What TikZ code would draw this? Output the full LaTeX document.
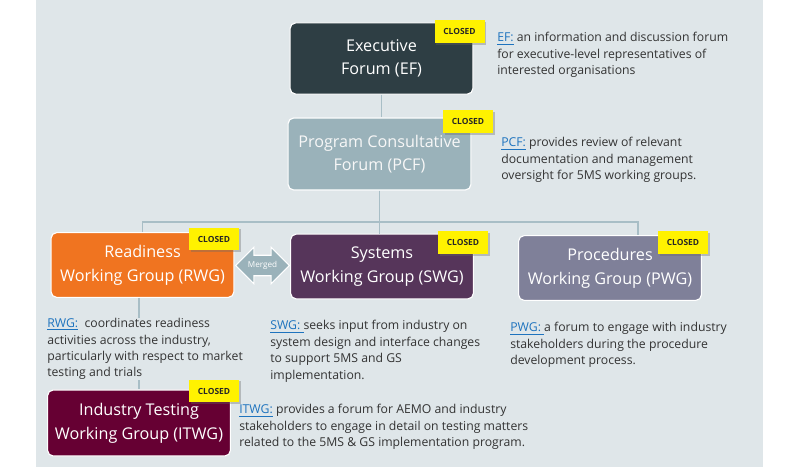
\documentclass[tikz,border=0pt]{standalone}
\usepackage{fontspec}
\setmainfont{Open Sans}
\usetikzlibrary{shapes.arrows, shadows, calc, positioning}

\definecolor{panel}{HTML}{DFE6E9}
\definecolor{efcol}{HTML}{2E3E44}
\definecolor{pcfcol}{HTML}{9AB2BA}
\definecolor{rwgcol}{HTML}{F07420}
\definecolor{swgcol}{HTML}{56355A}
\definecolor{pwgcol}{HTML}{7F8099}
\definecolor{itwgcol}{HTML}{660033}
\definecolor{wire}{HTML}{A8BEC6}
\definecolor{linkblue}{HTML}{1E73BE}
\definecolor{bodytext}{HTML}{333333}

\newcommand{\grouplink}[1]{\textcolor{linkblue}{\underline{#1}}}

\begin{document}
\begin{tikzpicture}[x=0.025cm, y=-0.025cm,
    groupbox/.style={draw=white, line width=0.8pt, rounded corners=4pt, minimum width=4.57cm, minimum height=1.62cm,
        align=center, text=white, font=\fontsize{11.5}{16.8}\selectfont,
        execute at begin node={\rule{0pt}{16pt}}},
    closedtag/.style={fill=yellow, minimum width=1.25cm, minimum height=0.57cm, inner sep=0pt,
        font=\fontsize{6}{7}\selectfont\bfseries, text=black!85,
        drop shadow={shadow xshift=1.2pt, shadow yshift=-1.2pt, opacity=0.35, fill=black!60}},
    note/.style={anchor=north west, inner sep=0pt, align=left, text=bodytext, fill=panel,
        font=\fontsize{8.7}{11.7}\selectfont},
    link/.style={draw=wire, line width=1.4pt}]

\useasboundingbox (0,0) rectangle (800,467);
\fill[panel] (36,0) rectangle (763,467);

%
\node[groupbox, fill=efcol, minimum height=1.78cm]   (EF)   at (381.5,58.5) {Executive\\Forum (EF)};
\node[groupbox, fill=pcfcol, minimum height=1.8cm, text=white!97!black] (PCF) at (379.5,154) {Program Consultative\\Forum (PCF)};
\node[groupbox, fill=rwgcol]  (RWG)  at (142.5,265) {Readiness\\Working Group (RWG)};
\node[groupbox, fill=swgcol]  (SWG)  at (382,266.5) {Systems\\Working Group (SWG)};
\node[groupbox, fill=pwgcol]  (PWG)  at (610,268)   {Procedures\\Working Group (PWG)};
\node[groupbox, fill=itwgcol, minimum height=1.65cm] (ITWG) at (139,423) {Industry Testing\\Working Group (ITWG)};

%
\coordinate (bus)  at (380,222);
\coordinate (pwgdrop) at (638,222);
\draw[link] (EF.south) -- (EF.south |- PCF.north);
\draw[link] (PCF.south) -- (PCF.south |- SWG.north);
\draw[link] (RWG.north) |- (pwgdrop) -- (pwgdrop |- PWG.north);
\draw[link] (ITWG.north |- RWG.south) -- (ITWG.north);

%
\node[double arrow, fill=pcfcol, draw=white, line width=0.8pt, minimum height=1.33cm, inner xsep=1pt, inner ysep=4pt,
    double arrow head extend=0.2cm, text=white, font=\fontsize{5.8}{6}\selectfont] (merge) at (262.5,265.5) {Merged};

%
\node[closedtag] (EFtag)   at (459.5,31.5) {CLOSED};
\node[closedtag] (PCFtag)  at (468,121.5)  {CLOSED};
\node[closedtag] (RWGtag)  at (214,239)    {CLOSED};
\node[closedtag] (SWGtag)  at (463,242.5)  {CLOSED};
\node[closedtag] (PWGtag)  at (683,242.5)  {CLOSED};
\node[closedtag] (ITWGtag) at (214,391)    {CLOSED};

%
\node[note] (EFnote) at (497,32) {\grouplink{EF:} an information and discussion forum\\
    for executive-level representatives of\\ interested organisations};
\node[note] (PCFnote) at (501,137) {\grouplink{PCF:} provides review of relevant\\
    documentation and management\\ oversight for 5MS working groups.};
\node[note] (RWGnote) at (47,318) {\grouplink{RWG:}\ \ coordinates readiness\\
    activities across the industry,\\ particularly with respect to market\\ testing and trials};
\node[note] (SWGnote) at (270,320) {\grouplink{SWG:\ }seeks input from industry on\\
    system design and interface changes\\ to support 5MS and GS\\ implementation.};
\node[note] (PWGnote) at (510,322) {\grouplink{PWG:\ }a forum to engage with industry\\
    stakeholders during the procedure\\ development process.};
\node[note] (ITWGnote) at (239,404) {\grouplink{ITWG:} provides a forum for AEMO and industry\\
    stakeholders to engage in detail on testing matters\\ related to the 5MS \& GS implementation program.};
\end{tikzpicture}
\end{document}
